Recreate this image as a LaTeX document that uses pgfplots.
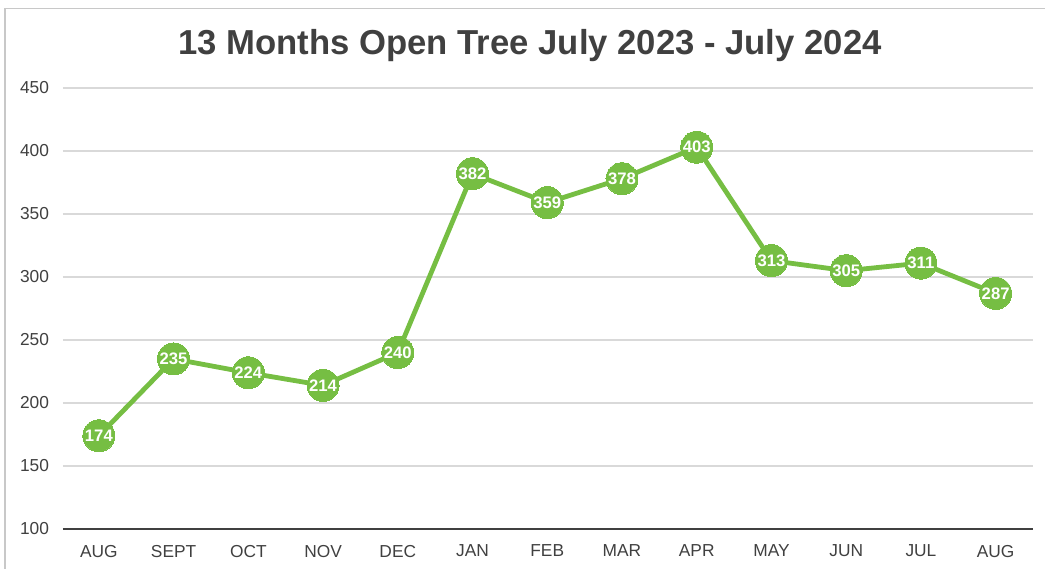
\documentclass[border=0pt]{standalone}
\usepackage{pgfplots}
\pgfplotsset{compat=1.18}
\usepackage{fontspec}
\setmainfont{Liberation Sans}
\definecolor{linegreen}{RGB}{118,190,67}
\definecolor{txtgray}{RGB}{64,64,64}
\definecolor{gridgray}{RGB}{217,217,217}
\definecolor{framegray}{RGB}{200,200,200}
\begin{document}
\begin{tikzpicture}
\begin{axis}[
    name=main,
    scale only axis,
    width=727.5pt, height=330.75pt,
    xmin=-0.48, xmax=12.5,
    ymin=100, ymax=450,
    ytick={100,150,...,450},
    xtick={0,...,12},
    xticklabels={AUG,SEPT,OCT,NOV,DEC,JAN,FEB,MAR,APR,MAY,JUN,JUL,AUG},
    ymajorgrids,
    grid style={gridgray, line width=0.9pt},
    axis line style={draw=none},
    axis x line*=bottom,
    axis y line*=left,
    tick style={draw=none},
    ticklabel style={font=\fontsize{13}{15}\selectfont, text=txtgray},
    /pgf/number format/assume math mode=true,
    yticklabel style={xshift=-7pt},
    xticklabel style={yshift=-8.5pt},
    clip=false,
]
\addplot[color=linegreen, line width=3.6pt, mark=*, mark size=12pt,
    mark options={fill=linegreen, draw=linegreen, line width=0pt},
    nodes near coords,
    nodes near coords align=center,
    every node near coord/.style={anchor=center, text=white,
        font=\bfseries\fontsize{12.5}{14}\selectfont}]
coordinates {(0,174) (1,235) (2,224) (3,214) (4,240) (5,382) (6,359)
    (7,378) (8,403) (9,313) (10,305) (11,311) (12,287)};
\draw[txtgray, line width=1.8pt] (rel axis cs:0,0) -- (rel axis cs:1,0);
\end{axis}
\node[font=\bfseries\fontsize{26}{30}\selectfont, text=txtgray]
    at ([xshift=-13.5pt, yshift=32pt]main.north) {13 Months Open Tree July 2023 - July 2024};
\pgfresetboundingbox
\path[use as bounding box] ([xshift=-47.25pt, yshift=-29.25pt]main.south west)
    rectangle ([xshift=9pt, yshift=66pt]main.north east);
\draw[framegray, line width=1pt]
    ([xshift=-43.5pt, yshift=-40pt]main.south west)
    |- ([xshift=30pt, yshift=59.75pt]main.north east);
\end{tikzpicture}
\end{document}
